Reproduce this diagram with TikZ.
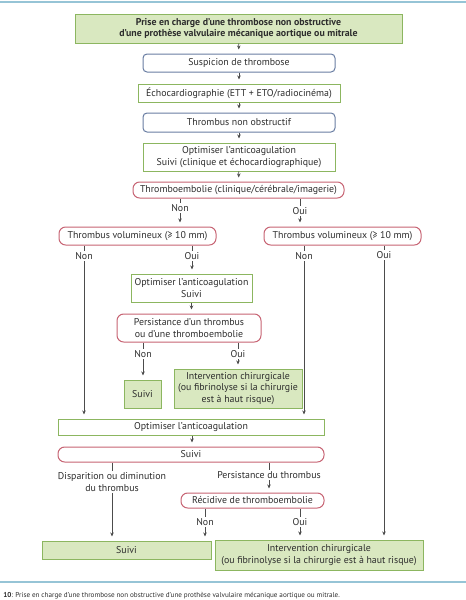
\documentclass[tikz,border=0pt]{standalone}
\usepackage{fontspec}
\setmainfont{PT Sans}
\usetikzlibrary{arrows.meta}

\definecolor{vert}{RGB}{140,182,96}
\definecolor{vertclair}{RGB}{217,232,192}
\definecolor{rouge}{RGB}{198,98,114}
\definecolor{bleu}{RGB}{104,124,162}
\definecolor{bleuclair}{RGB}{150,196,214}
\definecolor{texte}{RGB}{45,45,45}

\tikzset{
	boite/.style={draw, line width=0.75pt, inner sep=0pt, align=center, text=texte, font=\fontsize{7.4}{8.4}\selectfont},
	cadrevert/.style={boite, draw=vert, fill=white},
	pleinvert/.style={boite, draw=vert, fill=vertclair},
	arrondibleu/.style={boite, draw=bleu, rounded corners=3pt},
	arrondirouge/.style={boite, draw=rouge, rounded corners=5pt},
	etiq/.style={inner sep=1pt, text=texte, align=center, font=\fontsize{7.4}{8.4}\selectfont},
	trait/.style={draw=texte!85, line width=0.5pt},
	fleche/.style={trait, -{Stealth[length=3pt,width=2.6pt]}, shorten >=3pt},
}

\begin{document}
\begin{tikzpicture}[x=0.75pt,y=0.75pt,yscale=-1,xscale=1]
			\useasboundingbox (0,0) rectangle (466,600);
			
			%Straight Lines [filets]
			\draw [bleuclair, line width=0.9pt] (0,2) -- (466,2);
			\draw [bleuclair, line width=0.9pt] (0,582) -- (466,582);
			
			% Text Node
			\node [pleinvert, minimum width=245.25pt, minimum height=21.75pt, font=\bfseries\fontsize{7.4}{8.4}\selectfont] (titre) at (238.5,28.5) {Prise en charge d'une thrombose non obstructive\\d'une prothèse valvulaire mécanique aortique ou mitrale};
			% Text Node
			\node [arrondibleu, minimum width=144pt, minimum height=13.5pt] (suspicion) at (239,63) {Suspicion de thrombose};
			% Text Node
			\node [cadrevert, minimum width=151.5pt, minimum height=13.5pt] (echo) at (239,93) {Échocardiographie (ETT + ETO/radiocinéma)};
			% Text Node
			\node [arrondibleu, minimum width=144pt, minimum height=14.25pt] (nonobstr) at (239,122.5) {Thrombus non obstructif};
			% Text Node
			\node [cadrevert, minimum width=144pt, minimum height=21pt] (optimA) at (239,157) {Optimiser l'anticoagulation\\Suivi (clinique et échocardiographique)};
			% Text Node
			\node [arrondirouge, minimum width=158.25pt, minimum height=12pt] (embolie) at (238.5,190) {Thromboembolie (clinique/cérébrale/imagerie)};
			% Text Node
			\node [arrondirouge, minimum width=117.75pt, minimum height=13.5pt] (volG) at (137.5,236) {Thrombus volumineux (≥ 10 mm)};
			% Text Node
			\node [arrondirouge, minimum width=117.75pt, minimum height=13.5pt] (volD) at (342.5,236) {Thrombus volumineux (≥ 10 mm)};
			% Text Node
			\node [cadrevert, minimum width=90.75pt, minimum height=21pt] (optimB) at (191.5,288) {Optimiser l'anticoagulation\\Suivi};
			% Text Node
			\node [arrondirouge, minimum width=108pt, minimum height=21pt] (persist) at (189,328) {Persistance d'un thrombus\\ou d'une thromboembolie};
			% Text Node
			\node [pleinvert, minimum width=27.75pt, minimum height=21pt] (suiviA) at (142.5,394) {Suivi};
			% Text Node
			\node [pleinvert, minimum width=96pt, minimum height=29.25pt] (chirA) at (238,388.5) {Intervention chirurgicale\\(ou fibrinolyse si la chirurgie\\est à haut risque)};
			% Text Node
			\node [cadrevert, minimum width=199.5pt, minimum height=12pt] (optimC) at (191,427) {Optimiser l'anticoagulation};
			% Text Node
			\node [arrondirouge, minimum width=199.5pt, minimum height=11.25pt] (suiviB) at (191,454.5) {Suivi};
			% Text Node
			\node [arrondirouge, minimum width=107.25pt, minimum height=11.25pt] (recidive) at (252.5,500.5) {Récidive de thromboembolie};
			% Text Node
			\node [pleinvert, minimum width=126.75pt, minimum height=13.5pt] (suiviC) at (126.5,550) {Suivi};
			% Text Node
			\node [pleinvert, minimum width=156pt, minimum height=22.5pt] (chirB) at (319,555) {Intervention chirurgicale\\(ou fibrinolyse si la chirurgie est à haut risque)};
			
			% Text Node (branches)
			\node [etiq] (nonA) at (180,208) {Non};
			\node [etiq] (ouiA) at (300,211) {Oui};
			\node [etiq] (nonB) at (84,256) {Non};
			\node [etiq] (ouiB) at (192,256) {Oui};
			\node [etiq] (nonC) at (304,256) {Non};
			\node [etiq] (ouiC) at (384,255) {Oui};
			\node [etiq] (nonD) at (143,354) {Non};
			\node [etiq] (ouiD) at (238,354) {Oui};
			\node [etiq] (dispar) at (112,482) {Disparition ou diminution\\du thrombus};
			\node [etiq] (persdu) at (269,475) {Persistance du thrombus};
			\node [etiq] (nonE) at (205,522) {Non};
			\node [etiq] (ouiE) at (300,522) {Oui};
			
			%Straight Lines [axe]
			\draw [fleche] (titre) -- (suspicion);
			\draw [fleche] (suspicion) -- (echo);
			\draw [fleche] (echo) -- (nonobstr);
			\draw [fleche] (nonobstr) -- (optimA);
			\draw [fleche] (optimA) -- (embolie);
			%Straight Lines [embolie]
			\draw [trait] (embolie.south -| nonA) -- (nonA);
			\draw [fleche] (nonA) -- (nonA |- volG.north);
			\draw [trait] (embolie.south -| ouiA) -- (ouiA);
			\draw [fleche] (ouiA) -- (ouiA |- volD.north);
			%Straight Lines [gauche]
			\draw [trait] (volG.south -| nonB) -- (nonB);
			\draw [fleche] (nonB) -- (nonB |- optimC.north);
			\draw [trait] (volG.south -| ouiB) -- (ouiB);
			\draw [fleche] (ouiB) -- (ouiB |- optimB.north);
			\draw [fleche] (optimB.south) -- (optimB.south |- persist.north);
			\draw [trait] (persist.south -| nonD) -- (nonD);
			\draw [fleche] (nonD) -- (nonD |- suiviA.north);
			\draw [trait] (persist.south -| ouiD) -- (ouiD);
			\draw [fleche] (ouiD) -- (ouiD |- chirA.north);
			%Straight Lines [droite]
			\draw [trait] (volD.south -| nonC) -- (nonC);
			\draw [fleche] (nonC) -- (nonC |- optimC.north);
			\draw [trait] (volD.south -| ouiC) -- (ouiC);
			\draw [fleche] (ouiC) -- (ouiC |- chirB.north);
			%Straight Lines [bas]
			\draw [fleche] (optimC.south -| ouiB) -- (ouiB |- suiviB.north);
			\draw [trait] (suiviB.south -| dispar) -- (dispar);
			\draw [fleche] (dispar) -- (dispar |- suiviC.north);
			\draw [trait] (suiviB.south -| persdu) -- (persdu);
			\draw [fleche] (persdu) -- (persdu |- recidive.north);
			\draw [trait] (recidive.south -| nonE) -- (nonE);
			\draw [fleche] (nonE) -- (nonE |- suiviC.north);
			\draw [trait] (recidive.south -| ouiE) -- (ouiE);
			\draw [fleche] (ouiE) -- (ouiE |- chirB.north);
			
			% Text Node (legende)
			\node [anchor=west, inner sep=0pt, text=texte, font=\fontsize{5.35}{6}\selectfont] (legende) at (3,596) {\textbf{10}: Prise en charge d'une thrombose non obstructive d'une prothèse valvulaire mécanique aortique ou mitrale.};
		\end{tikzpicture}
\end{document}
